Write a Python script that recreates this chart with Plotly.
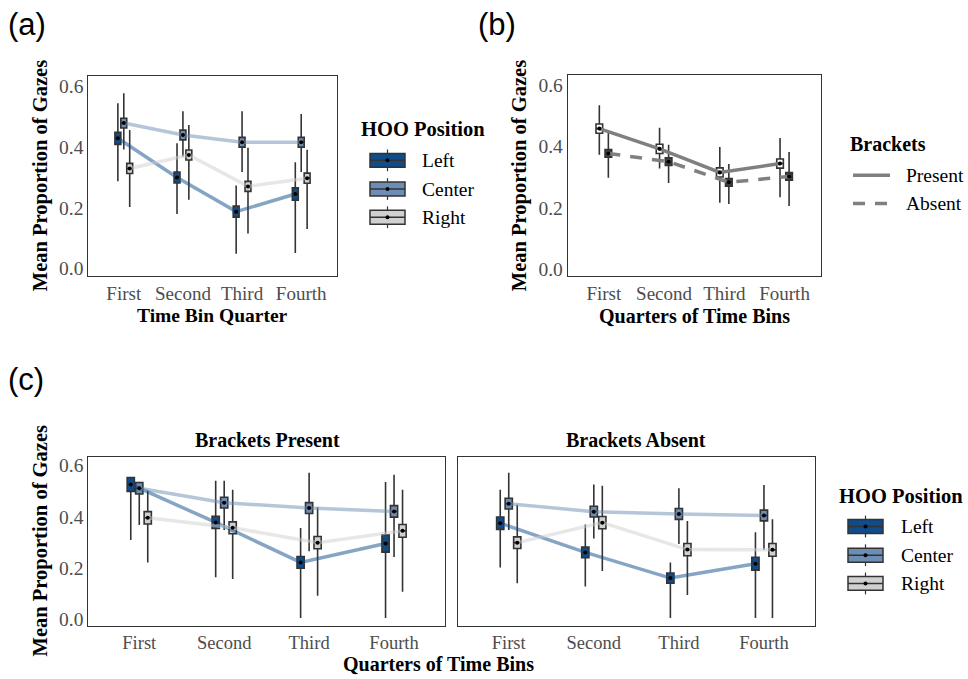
import plotly.graph_objects as go

W, H = 968, 679

quarters = ["First", "Second", "Third", "Fourth"]
hoo_positions = ["Left", "Center", "Right"]
bracket_levels = ["Present", "Absent"]

# ---------------- Panel (a) ----------------
a_left_mean = [0.428, 0.299, 0.187, 0.245]
a_left_lo = [0.287, 0.179, 0.049, 0.051]
a_left_hi = [0.543, 0.412, 0.273, 0.349]
a_left_iqr = [0.040, 0.036, 0.036, 0.040]

a_center_mean = [0.478, 0.439, 0.415, 0.415]
a_center_lo = [0.391, 0.368, 0.317, 0.317]
a_center_hi = [0.576, 0.517, 0.517, 0.508]
a_center_iqr = [0.032, 0.032, 0.032, 0.032]

a_right_mean = [0.329, 0.373, 0.270, 0.297]
a_right_lo = [0.202, 0.226, 0.115, 0.130]
a_right_hi = [0.455, 0.472, 0.397, 0.390]
a_right_iqr = [0.033, 0.033, 0.033, 0.033]

# ---------------- Panel (b) ----------------
b_present_mean = [0.458, 0.392, 0.315, 0.344]
b_present_lo = [0.373, 0.328, 0.216, 0.234]
b_present_hi = [0.534, 0.461, 0.398, 0.427]
b_present_iqr = [0.030, 0.030, 0.030, 0.030]

b_absent_mean = [0.377, 0.350, 0.283, 0.302]
b_absent_lo = [0.298, 0.281, 0.212, 0.206]
b_absent_hi = [0.445, 0.405, 0.343, 0.382]
b_absent_iqr = [0.025, 0.025, 0.025, 0.025]

# ---------------- Panel (c): Brackets Present ----------------
cp_left_mean = [0.526, 0.378, 0.222, 0.296]
cp_left_lo = [0.309, 0.164, 0.005, 0.005]
cp_left_hi = [0.553, 0.540, 0.356, 0.536]
cp_left_iqr = [0.054, 0.048, 0.046, 0.068]

cp_center_mean = [0.511, 0.455, 0.434, 0.421]
cp_center_lo = [0.368, 0.348, 0.266, 0.243]
cp_center_hi = [0.534, 0.540, 0.572, 0.564]
cp_center_iqr = [0.045, 0.042, 0.042, 0.045]

cp_right_mean = [0.396, 0.357, 0.299, 0.345]
cp_right_lo = [0.222, 0.157, 0.092, 0.108]
cp_right_hi = [0.502, 0.505, 0.437, 0.505]
cp_right_iqr = [0.048, 0.046, 0.048, 0.050]

# ---------------- Panel (c): Brackets Absent ----------------
ca_left_mean = [0.375, 0.261, 0.161, 0.217]
ca_left_lo = [0.202, 0.128, 0.005, 0.005]
ca_left_hi = [0.505, 0.370, 0.222, 0.340]
ca_left_iqr = [0.048, 0.042, 0.040, 0.050]

ca_center_mean = [0.451, 0.420, 0.411, 0.405]
ca_center_lo = [0.348, 0.315, 0.294, 0.271]
ca_center_hi = [0.572, 0.526, 0.511, 0.524]
ca_center_iqr = [0.042, 0.042, 0.042, 0.042]

ca_right_mean = [0.299, 0.377, 0.272, 0.271]
ca_right_lo = [0.141, 0.189, 0.095, 0.005]
ca_right_hi = [0.447, 0.521, 0.383, 0.390]
ca_right_iqr = [0.045, 0.048, 0.048, 0.050]

y_ticks = [0.0, 0.2, 0.4, 0.6]
y_tick_text = ["0.0", "0.2", "0.4", "0.6"]

# ---------------- styles ----------------
FILL = {"Left": "#0E4C8B", "Center": "#6D8DB4", "Right": "#D0D0D0"}
LINE = {"Left": "rgba(14,76,139,0.5)", "Center": "rgba(109,141,180,0.5)", "Right": "rgba(208,208,208,0.5)"}
DODGE3 = {"Left": -0.1, "Center": 0.0, "Right": 0.1}
DODGE2 = {"Present": -0.075, "Absent": 0.075}
EDGE = "#333333"
SERIF = "Liberation Serif, Times New Roman, serif"
SANS = "Liberation Sans, Arial, sans-serif"
TICK_GRAY = "#4D4D4D"

xq = [1, 2, 3, 4]


def px(x):
    return x / W


def py(y):
    return 1 - y / H


fig = go.Figure()


def add_group(xa, ya, means, dx, linecolor, dash):
    xs = [v + dx for v in xq]
    fig.add_trace(go.Scatter(x=xs, y=means, mode="lines", xaxis=xa, yaxis=ya,
                             line=dict(color=linecolor, width=3.5, dash=dash),
                             showlegend=False, hoverinfo="skip"))
    return xs


def add_box(xa, ya, xs, means, los, his, iqrs, fill, boxw):
    fig.add_trace(go.Box(x=xs, q1=[m - h / 2 for m, h in zip(means, iqrs)], median=means,
                         q3=[m + h / 2 for m, h in zip(means, iqrs)],
                         lowerfence=los, upperfence=his, xaxis=xa, yaxis=ya,
                         width=boxw, fillcolor=fill, whiskerwidth=0,
                         line=dict(color=EDGE, width=1.6), boxpoints=False,
                         showlegend=False, hoverinfo="skip"))
    fig.add_trace(go.Scatter(x=xs, y=means, mode="markers", xaxis=xa, yaxis=ya,
                             marker=dict(color="black", size=4),
                             showlegend=False, hoverinfo="skip"))


panel_a = {
    "Left": (a_left_mean, a_left_lo, a_left_hi, a_left_iqr),
    "Center": (a_center_mean, a_center_lo, a_center_hi, a_center_iqr),
    "Right": (a_right_mean, a_right_lo, a_right_hi, a_right_iqr),
}
panel_cp = {
    "Left": (cp_left_mean, cp_left_lo, cp_left_hi, cp_left_iqr),
    "Center": (cp_center_mean, cp_center_lo, cp_center_hi, cp_center_iqr),
    "Right": (cp_right_mean, cp_right_lo, cp_right_hi, cp_right_iqr),
}
panel_ca = {
    "Left": (ca_left_mean, ca_left_lo, ca_left_hi, ca_left_iqr),
    "Center": (ca_center_mean, ca_center_lo, ca_center_hi, ca_center_iqr),
    "Right": (ca_right_mean, ca_right_lo, ca_right_hi, ca_right_iqr),
}
panel_b = {
    "Present": (b_present_mean, b_present_lo, b_present_hi, b_present_iqr),
    "Absent": (b_absent_mean, b_absent_lo, b_absent_hi, b_absent_iqr),
}

for xa, ya, panel, bw in [("x", "y", panel_a, 0.1), ("x3", "y3", panel_cp, 0.085), ("x4", "y4", panel_ca, 0.085)]:
    xs_map = {}
    for pos in hoo_positions:
        m, lo, hi, iq = panel[pos]
        xs_map[pos] = add_group(xa, ya, m, DODGE3[pos], LINE[pos], "solid")
    for pos in hoo_positions:
        m, lo, hi, iq = panel[pos]
        add_box(xa, ya, xs_map[pos], m, lo, hi, iq, FILL[pos], bw)

B_FILL = {"Present": "#FFFFFF", "Absent": "#444444"}
B_DASH = {"Present": "solid", "Absent": "12px,10px"}
xs_b = {}
for lev in bracket_levels:
    m, lo, hi, iq = panel_b[lev]
    xs_b[lev] = add_group("x2", "y2", m, DODGE2[lev], "#808080", B_DASH[lev])
for lev in bracket_levels:
    m, lo, hi, iq = panel_b[lev]
    add_box("x2", "y2", xs_b[lev], m, lo, hi, iq, B_FILL[lev], 0.11)

# ---------------- axes ----------------
YR = [-0.024, 0.632]
XR = [0.4, 4.6]
domains = {
    "a": ((88.3, 336.7), (75, 276.7)),
    "b": ((567.7, 820.7), (74, 277.3)),
    "c1": ((88.3, 445), (460, 630)),
    "c2": ((457.7, 815), (460, 630)),
}
axis_names = {"a": ("xaxis", "yaxis", "y", "x"), "b": ("xaxis2", "yaxis2", "y2", "x2"),
              "c1": ("xaxis3", "yaxis3", "y3", "x3"), "c2": ("xaxis4", "yaxis4", "y4", "x4")}
layout_axes = {}
for key, ((x0, x1), (y0, y1)) in domains.items():
    xn, yn, anchor_y, anchor_x = axis_names[key]
    fs = 18.5 if key in ("c1", "c2") else 19
    tickfont = dict(family=SERIF, size=fs, color=TICK_GRAY)
    layout_axes[xn] = dict(domain=[px(x0), px(x1)], anchor=anchor_y, range=XR,
                           tickvals=xq, ticktext=quarters, tickfont=tickfont,
                           showgrid=False, zeroline=False, showline=True, mirror=True,
                           linecolor=EDGE, linewidth=1, ticks="", fixedrange=True)
    layout_axes[yn] = dict(domain=[py(y1), py(y0)], anchor=anchor_x, range=YR,
                           tickvals=y_ticks, ticktext=y_tick_text,
                           tickfont=dict(family=SERIF, size=19.5, color=TICK_GRAY),
                           showgrid=False, zeroline=False, showline=True, mirror=True,
                           linecolor=EDGE, linewidth=1, ticks="", fixedrange=True,
                           showticklabels=(key != "c2"))

fig.update_layout(width=W, height=H, margin=dict(l=0, r=0, t=0, b=0),
                  paper_bgcolor="white", plot_bgcolor="white", boxmode="overlay",
                  showlegend=False, **layout_axes)

# ---------------- text annotations ----------------
ann = []


def text(x, y, s, size, bold=False, family=SERIF, color="black", angle=0, xanchor="center"):
    ann.append(dict(x=px(x), y=py(y), xref="paper", yref="paper", text=(f"<b>{s}</b>" if bold else s),
                    showarrow=False, font=dict(family=family, size=size, color=color),
                    textangle=angle, xanchor=xanchor, yanchor="middle"))


text(6, 23, "(a)", 31, family=SANS, xanchor="left")
text(476, 23, "(b)", 31, family=SANS, xanchor="left")
text(6, 381, "(c)", 31, family=SANS, xanchor="left")

text(40, 176, "Mean Proportion of Gazes", 20.5, bold=True, angle=-90)
text(519, 176, "Mean Proportion of Gazes", 20.5, bold=True, angle=-90)
text(40, 545, "Mean Proportion of Gazes", 20.5, bold=True, angle=-90)

text(212, 317, "Time Bin Quarter", 19.5, bold=True)
text(694, 317, "Quarters of Time Bins", 20, bold=True)
text(438, 668.5, "Quarters of Time Bins", 20, bold=True)

text(267, 443, "Brackets Present", 20, bold=True)
text(636, 443, "Brackets Absent", 20, bold=True)

shapes = []


def key_box(x0, x1, yc, fill):
    shapes.append(dict(type="line", xref="paper", yref="paper", x0=px((x0 + x1) / 2), x1=px((x0 + x1) / 2),
                       y0=py(yc - 11), y1=py(yc + 11), line=dict(color=EDGE, width=1.2)))
    shapes.append(dict(type="rect", xref="paper", yref="paper", x0=px(x0), x1=px(x1),
                       y0=py(yc - 7), y1=py(yc + 7), fillcolor=fill, line=dict(color=EDGE, width=1.5)))
    shapes.append(dict(type="line", xref="paper", yref="paper", x0=px(x0), x1=px(x1),
                       y0=py(yc), y1=py(yc), line=dict(color=EDGE, width=1.5)))
    shapes.append(dict(type="circle", xref="paper", yref="paper", x0=px((x0 + x1) / 2 - 2), x1=px((x0 + x1) / 2 + 2),
                       y0=py(yc - 2), y1=py(yc + 2), fillcolor="black", line=dict(color="black", width=0)))


# legend (a)
text(359, 128, "HOO Position", 20.5, bold=True, xanchor="left")
for pos, yc in zip(hoo_positions, [160, 189, 217.5]):
    key_box(370, 405, yc, FILL[pos])
    text(420, yc, pos, 19.5, xanchor="left")

# legend (c)
text(837, 499, "HOO Position", 20.5, bold=True, xanchor="left")
for pos, yc in zip(hoo_positions, [530, 559, 587.5]):
    key_box(848, 883, yc, FILL[pos])
    text(899, yc, pos, 19.5, xanchor="left")

# legend (b)
text(848, 143, "Brackets", 20, bold=True, xanchor="left")
shapes.append(dict(type="line", xref="paper", yref="paper", x0=px(853), x1=px(890), y0=py(175), y1=py(175),
                   line=dict(color="#808080", width=3.5)))
shapes.append(dict(type="line", xref="paper", yref="paper", x0=px(853), x1=px(890), y0=py(203.5), y1=py(203.5),
                   line=dict(color="#808080", width=3.5, dash="12px,10px")))
text(904, 175, "Present", 19.5, xanchor="left")
text(904, 203.5, "Absent", 19.5, xanchor="left")

fig.update_layout(annotations=ann, shapes=shapes)

fig.write_html("out.html", config={"displayModeBar": False},
               post_script="document.body.style.margin='0';document.body.style.overflow='hidden';")
